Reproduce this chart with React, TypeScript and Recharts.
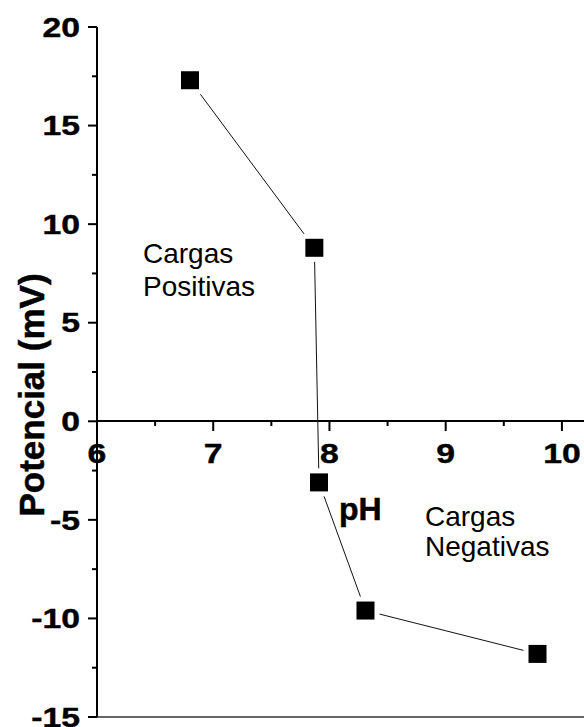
import React from "react";
import { ScatterChart, Scatter, XAxis, YAxis, ReferenceLine } from "recharts";

const phValues = [6.8, 7.87, 7.91, 8.31, 9.79];
const potentialValues = [17.3, 8.8, -3.1, -9.6, -11.8];
const xTicks = [6, 6.5, 7, 7.5, 8, 8.5, 9, 9.5, 10];
const xMajor = [6, 7, 8, 9, 10];
const yTicks = [-15, -12.5, -10, -7.5, -5, -2.5, 0, 2.5, 5, 7.5, 10, 12.5, 15, 17.5, 20];
const yMajor = [-15, -10, -5, 0, 5, 10, 15, 20];
const xDomain = [6, 10.19];
const yDomain = [-15, 20];

const data = phValues.map((x, i) => ({ x, y: potentialValues[i] }));

const FONT = '"Liberation Sans", Arial, Helvetica, sans-serif';
const W = 584;
const H = 727;
const TICK_FONT = 27;
const STRETCH = 1.25;

const YTick = (props: any) => {
  const { x, y, payload } = props;
  const major = yMajor.includes(payload.value);
  return (
    <g>
      <line x1={x - (major ? 9 : 5)} x2={x} y1={y} y2={y} stroke="#000" strokeWidth={2} />
      {major && (
        <text
          transform={`translate(${x - 17} ${y}) scale(${STRETCH} 1)`}
          x={0}
          y={0}
          dy="0.36em"
          textAnchor="end"
          fontFamily={FONT}
          fontWeight="bold"
          fontSize={TICK_FONT}
          fill="#000"
          stroke="#000"
          strokeWidth={0.4}
        >
          {payload.value}
        </text>
      )}
    </g>
  );
};

const XTick = (props: any) => {
  const { x, y, payload } = props;
  const major = xMajor.includes(payload.value);
  return (
    <g>
      <line x1={x} x2={x} y1={y} y2={y + (major ? 10 : 5)} stroke="#000" strokeWidth={2} />
      {major && (
        <text
          transform={`translate(${x} ${y + 42}) scale(${STRETCH} 1)`}
          x={0}
          y={0}
          textAnchor="middle"
          fontFamily={FONT}
          fontWeight="bold"
          fontSize={TICK_FONT}
          fill="#000"
          stroke="#000"
          strokeWidth={0.4}
        >
          {payload.value}
        </text>
      )}
    </g>
  );
};

const SquareMarker = (props: any) => {
  const { cx, cy } = props;
  if (cx == null || cy == null) return <g />;
  return (
    <g>
      <rect x={cx - 14} y={cy - 14} width={28} height={28} fill="#fff" />
      <rect x={cx - 9} y={cy - 9} width={18} height={18} fill="#000" />
    </g>
  );
};

const Empty = () => <g />;

export default function App() {
  return (
    <div style={{ position: "relative", width: W, height: H, background: "#fff", overflow: "hidden" }}>
      <style>{"body{margin:0}"}</style>
      <div style={{ position: "absolute", left: 0, top: 0 }}>
        <ScatterChart width={W} height={H} margin={{ top: 0, right: 0, left: 97, bottom: 246 }}>
          <XAxis
            type="number"
            dataKey="x"
            domain={xDomain}
            ticks={xTicks}
            interval={0}
            allowDataOverflow
            height={60}
            tickSize={0}
            tickMargin={0}
            tickLine={false}
            axisLine={{ stroke: "#000", strokeWidth: 2 }}
            tick={<XTick />}
          />
          <YAxis type="number" dataKey="y" domain={yDomain} hide />
          <Scatter data={data} shape={<Empty />} isAnimationActive={false} />
        </ScatterChart>
      </div>
      <div style={{ position: "absolute", left: 0, top: 0 }}>
        <ScatterChart width={W} height={H} margin={{ top: 27, right: 0, left: 0, bottom: 10 }}>
          <XAxis
            type="number"
            dataKey="x"
            orientation="top"
            domain={xDomain}
            allowDataOverflow
            height={0}
            tick={false}
            tickLine={false}
            axisLine={{ stroke: "#000", strokeWidth: 2 }}
          />
          <YAxis
            type="number"
            dataKey="y"
            domain={yDomain}
            ticks={yTicks}
            interval={0}
            allowDataOverflow
            width={97}
            tickSize={0}
            tickMargin={0}
            tickLine={false}
            axisLine={{ stroke: "#000", strokeWidth: 2 }}
            tick={<YTick />}
          />
          <ReferenceLine y={-15} stroke="#333" strokeWidth={1.5} />
          <Scatter
            data={data}
            line={{ stroke: "#111", strokeWidth: 1 }}
            lineType="joint"
            shape={<SquareMarker />}
            isAnimationActive={false}
          />
        </ScatterChart>
      </div>
      <div
        style={{
          position: "absolute",
          left: 31,
          top: 395,
          transform: "translate(-50%, -50%) rotate(-90deg)",
          whiteSpace: "nowrap",
          fontFamily: FONT,
          fontWeight: "bold",
          fontSize: 35,
          lineHeight: "35px",
          WebkitTextStroke: "0.5px #000",
        }}
      >
        Potencial (mV)
      </div>
      <div
        style={{
          position: "absolute",
          left: 339,
          top: 493,
          fontFamily: FONT,
          fontWeight: "bold",
          fontSize: 32,
          lineHeight: "32px",
          WebkitTextStroke: "0.5px #000",
        }}
      >
        pH
      </div>
      <div
        style={{
          position: "absolute",
          left: 143,
          top: 237,
          fontFamily: FONT,
          fontSize: 28,
          lineHeight: "33px",
        }}
      >
        Cargas
        <br />
        Positivas
      </div>
      <div
        style={{
          position: "absolute",
          left: 425,
          top: 502,
          fontFamily: FONT,
          fontSize: 28,
          lineHeight: "30px",
        }}
      >
        Cargas
        <br />
        Negativas
      </div>
    </div>
  );
}
